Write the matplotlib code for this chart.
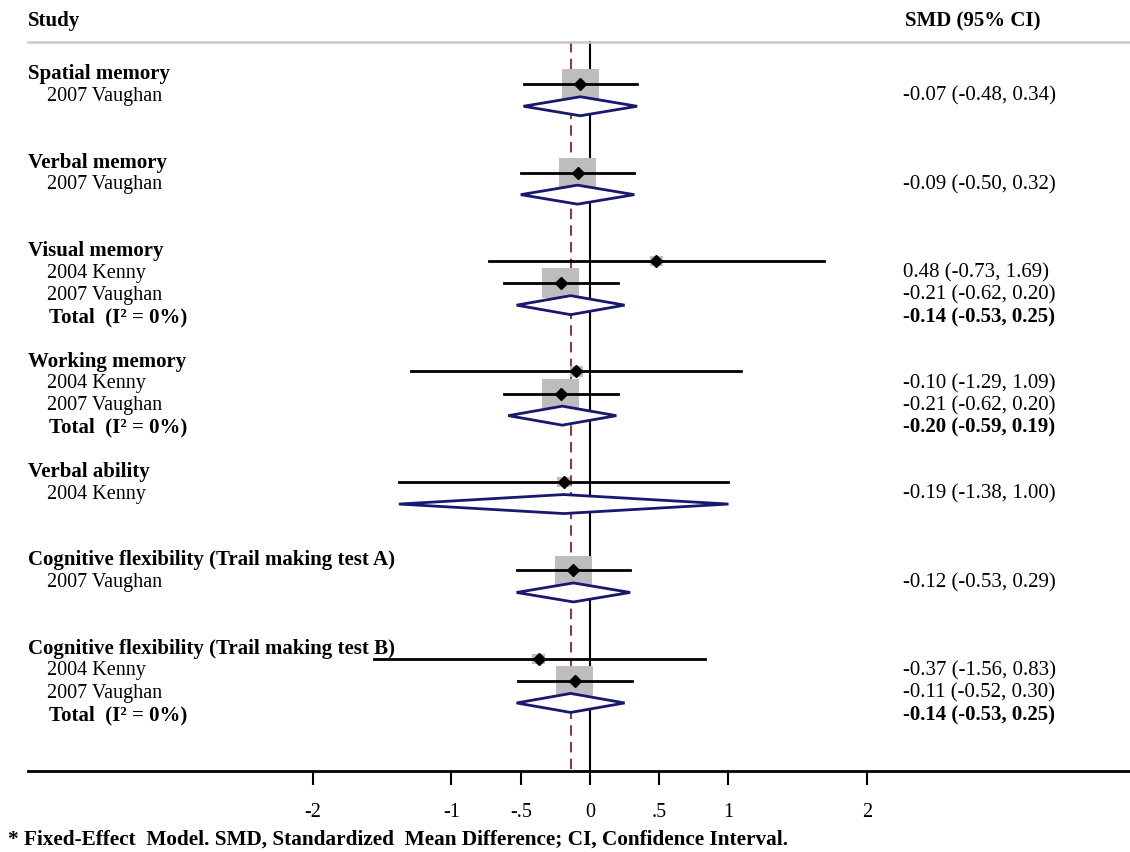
# Forest plot - SMD (95% CI), modelo de efeito fixo

import matplotlib.pyplot as plt
from matplotlib.patches import Rectangle, Polygon
from matplotlib.transforms import blended_transform_factory
import numpy as np

plt.rcParams['font.family'] = ['Liberation Serif', 'DejaVu Serif']

# Dados
groups = ['Spatial memory', 'Verbal memory', 'Visual memory', 'Working memory',
          'Verbal ability', 'Cognitive flexibility (Trail making test A)',
          'Cognitive flexibility (Trail making test B)']
studies = [['2007 Vaughan'], ['2007 Vaughan'], ['2004 Kenny', '2007 Vaughan'],
           ['2004 Kenny', '2007 Vaughan'], ['2004 Kenny'], ['2007 Vaughan'],
           ['2004 Kenny', '2007 Vaughan']]
smd = [[-0.07], [-0.09], [0.48, -0.21], [-0.10, -0.21], [-0.19], [-0.12], [-0.37, -0.11]]
ci_lo = [[-0.48], [-0.50], [-0.73, -0.62], [-1.29, -0.62], [-1.38], [-0.53], [-1.56, -0.52]]
ci_hi = [[0.34], [0.32], [1.69, 0.20], [1.09, 0.20], [1.00], [0.29], [0.83, 0.30]]
total_smd = [-0.07, -0.09, -0.14, -0.20, -0.19, -0.12, -0.14]
total_lo = [-0.48, -0.50, -0.53, -0.59, -1.38, -0.53, -0.53]
total_hi = [0.34, 0.32, 0.25, 0.19, 1.00, 0.29, 0.25]
i2 = [None, None, 0, 0, None, None, 0]
overall = -0.14

xticks = [-2, -1, -0.5, 0, 0.5, 1, 2]
xticklabels = ['-2', '-1', '-.5', '0', '.5', '1', '2']

# layout (pixels -> unidades)
W, H = 1130, 852
px_unit = 138.5      # pixels por unidade de SMD
x_zero = 590         # pixel do zero
row_h = 22.1         # altura da linha
y_first = 72         # pixel da primeira linha

def px(p):
    return p / W

def row_from_px(p):
    return (p - y_first) / row_h

fig = plt.figure(figsize=(W / 100, H / 100), dpi=100)
ax = fig.add_axes([0, 0, 1, 1])
ax.set_xlim(-x_zero / px_unit, (W - x_zero) / px_unit)
ax.set_ylim(row_from_px(H), row_from_px(0))
tr = blended_transform_factory(ax.transAxes, ax.transData)

fs = 14.5       # texto normal
fs_b = 15       # negrito
diam_col = '#18186e'
mark_off = 0.45
half_h = 9.5 / row_h
t_off = 0.1     # ajuste vertical do texto

r = 0
for g in range(len(groups)):
    ax.text(px(28), r + t_off, groups[g], fontsize=fs_b, fontweight='bold', va='center',
            transform=tr)
    n = len(studies[g])
    for k in range(n):
        rr = r + 1 + k
        ym = rr - mark_off
        m, lo, hi = smd[g][k], ci_lo[g][k], ci_hi[g][k]
        w = (3.92 / (hi - lo)) ** 2
        sw = 0.0559 * np.sqrt(w)
        sh = sw * px_unit * 0.8 / row_h
        ax.add_patch(Rectangle((m - sw / 2, ym - sh / 2), sw, sh, color='#bdbdbd', lw=0, zorder=2))
        ax.plot([lo, hi], [ym, ym], color='black', lw=2, zorder=3)
        ax.plot(m, ym, marker='D', color='black', ms=6.5, zorder=4)
        ax.text(px(47), rr + t_off, studies[g][k], fontsize=fs, va='center', transform=tr)
        ax.text(px(903), rr + t_off, f'{m:.2f} ({lo:.2f}, {hi:.2f})', fontsize=fs + 0.5,
                va='center', transform=tr)
    rt = r + n + 1
    yd = rt - mark_off
    tm, tl, th = total_smd[g], total_lo[g], total_hi[g]
    ax.add_patch(Polygon([[tl, yd], [tm, yd - half_h], [th, yd], [tm, yd + half_h]],
                         closed=True, facecolor='white', edgecolor=diam_col, lw=2, zorder=3))
    if n > 1:
        ax.text(px(49), rt + t_off, f'Total  (I² = {i2[g]}%)', fontsize=fs_b, fontweight='bold',
                va='center', transform=tr)
        ax.text(px(903), rt + t_off, f'{tm:.2f} ({tl:.2f}, {th:.2f})', fontsize=fs_b,
                fontweight='bold', va='center', transform=tr)
    r = r + n + 3

# linhas verticais
y_top = row_from_px(42)
y_axis = row_from_px(771)
ax.plot([0, 0], [y_top, y_axis], color='black', lw=1.5, zorder=1)
ax.plot([overall, overall], [y_top, y_axis], color='#8c3c3c', lw=1.5,
        dashes=(5, 3), zorder=1)

# cabeçalho
ax.plot([(28 - x_zero) / px_unit, (W - x_zero) / px_unit], [y_top, y_top],
        color='#c8c8c8', lw=1.8, zorder=1)
ax.text(px(28), row_from_px(21), 'Study', fontsize=fs_b, fontweight='bold', va='center',
        transform=tr)
ax.text(px(905), row_from_px(21), 'SMD (95% CI)', fontsize=fs_b, fontweight='bold',
        va='center', transform=tr)

# eixo x
for s in ['left', 'right', 'top']:
    ax.spines[s].set_visible(False)
ax.spines['bottom'].set_position(('data', y_axis))
ax.spines['bottom'].set_bounds((28 - x_zero) / px_unit, (W - x_zero) / px_unit)
ax.spines['bottom'].set_linewidth(2)
ax.set_yticks([])
ax.set_xticks(xticks)
ax.set_xticklabels(xticklabels, fontsize=fs)
ax.tick_params(axis='x', direction='out', length=10, width=1.5, pad=13)

fig.text(px(8), 1 - 840 / H,
         '* Fixed-Effect  Model. SMD, Standardized  Mean Difference; CI, Confidence Interval.',
         fontsize=15.3, fontweight='bold', va='center')

plt.savefig('out.png', dpi=100)
